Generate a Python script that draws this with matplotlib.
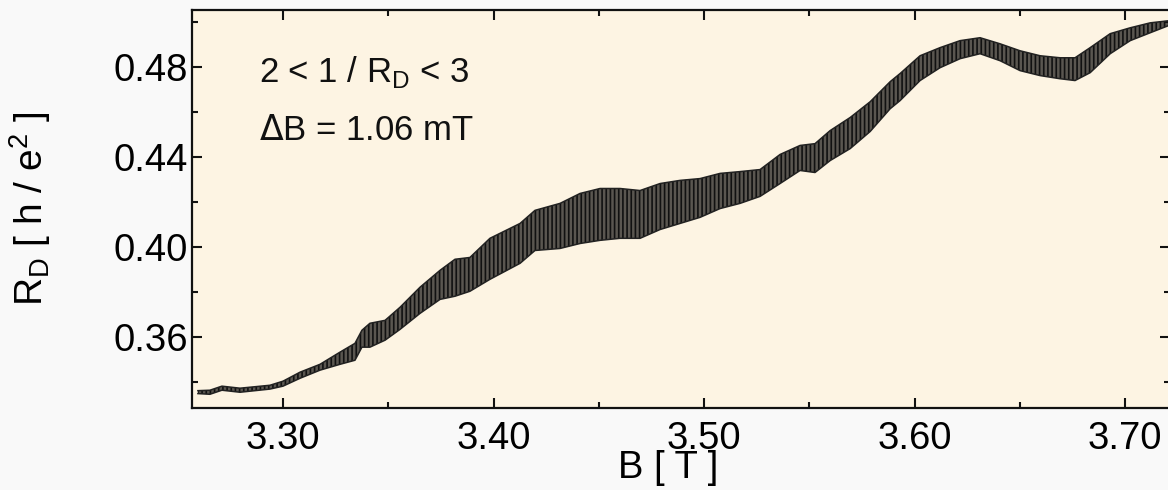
import numpy as np
import matplotlib
matplotlib.use('Agg')
import matplotlib.pyplot as plt
from matplotlib.ticker import MultipleLocator

plt.rcParams['font.family'] = ['Liberation Sans', 'DejaVu Sans']
plt.rcParams['hatch.linewidth'] = 1.2
plt.rcParams['hatch.color'] = '#111111'

# magnetic field [T] and the upper / lower edge of the oscillating trace
b_field = [3.2596, 3.2653, 3.2710, 3.2796, 3.2938, 3.3000, 3.3081, 3.3176, 3.3271, 3.3342,
           3.3375, 3.3413, 3.3485, 3.3556, 3.3651, 3.3746, 3.3817, 3.3888, 3.3983, 3.4126,
           3.4197, 3.4316, 3.4411, 3.4506, 3.4601, 3.4696, 3.4791, 3.4886, 3.4981, 3.5076,
           3.5171, 3.5266, 3.5361, 3.5456, 3.5527, 3.5599, 3.5694, 3.5789, 3.5884, 3.5931,
           3.6026, 3.6121, 3.6216, 3.6311, 3.6406, 3.6501, 3.6596, 3.6691, 3.6762, 3.6834,
           3.6929, 3.7024, 3.7119, 3.7204]
rd_upper = [0.3363, 0.3365, 0.3383, 0.3374, 0.3387, 0.3405, 0.3445, 0.3480, 0.3534, 0.3573,
            0.3631, 0.3662, 0.3675, 0.3733, 0.3822, 0.3897, 0.3946, 0.3954, 0.4039, 0.4105,
            0.4163, 0.4194, 0.4238, 0.4260, 0.4260, 0.4251, 0.4282, 0.4296, 0.4304, 0.4327,
            0.4335, 0.4344, 0.4411, 0.4451, 0.4459, 0.4517, 0.4575, 0.4645, 0.4734, 0.4770,
            0.4849, 0.4885, 0.4916, 0.4929, 0.4902, 0.4871, 0.4849, 0.4840, 0.4840, 0.4885,
            0.4947, 0.4973, 0.4995, 0.5004]
rd_lower = [0.3350, 0.3347, 0.3365, 0.3356, 0.3370, 0.3383, 0.3418, 0.3454, 0.3480, 0.3498,
            0.3556, 0.3556, 0.3587, 0.3635, 0.3706, 0.3768, 0.3782, 0.3804, 0.3857, 0.3928,
            0.3985, 0.3994, 0.4016, 0.4030, 0.4039, 0.4039, 0.4078, 0.4105, 0.4132, 0.4171,
            0.4194, 0.4225, 0.4282, 0.4340, 0.4331, 0.4384, 0.4437, 0.4513, 0.4614, 0.4650,
            0.4739, 0.4796, 0.4836, 0.4858, 0.4827, 0.4783, 0.4761, 0.4747, 0.4739, 0.4774,
            0.4858, 0.4916, 0.4951, 0.4982]

x_ticks = [3.30, 3.40, 3.50, 3.60, 3.70]
y_ticks = [0.36, 0.40, 0.44, 0.48]

fig = plt.figure(figsize=(11.68, 4.9), dpi=100, facecolor='#f9f9f9')
ax = fig.add_axes([0.1644, 0.1673, 0.8373, 0.8123], facecolor='#fdf4e3')

# band of the dense oscillations: grey body, dark streaks, dark edges
ax.fill_between(b_field, rd_lower, rd_upper, facecolor='#5a5650', edgecolor='none', lw=0)
ax.fill_between(b_field, rd_lower, rd_upper, facecolor='none', edgecolor='#111111',
                hatch='||||', lw=0)
ax.plot(b_field, rd_upper, color='#222222', lw=1.1)
ax.plot(b_field, rd_lower, color='#222222', lw=1.1)

ax.set_xlim(3.2568, 3.7213)
ax.set_ylim(0.3286, 0.5052)
ax.set_xticks(x_ticks)
ax.set_xticklabels(['%.2f' % v for v in x_ticks])
ax.set_yticks(y_ticks)
ax.set_yticklabels(['%.2f' % v for v in y_ticks])
ax.xaxis.set_minor_locator(MultipleLocator(0.05))
ax.yaxis.set_minor_locator(MultipleLocator(0.02))
ax.tick_params(which='both', direction='in', top=True, right=True, width=1.5, color='#111111')
ax.tick_params(which='major', length=7.5, labelsize=27.5)
ax.tick_params(which='minor', length=4.5)
ax.tick_params(axis='x', pad=9)
ax.tick_params(axis='y', pad=3)
for s in ax.spines.values():
    s.set_linewidth(1.6)
    s.set_color('#111111')

ax.set_xlabel('B [ T ]', fontsize=27.5)
ax.xaxis.set_label_coords(0.487, -0.106)
ax.set_ylabel(r'R$_\mathregular{D}$ [ h / e$^\mathregular{2}$ ]', fontsize=28)
ax.yaxis.set_label_coords(-0.142, 0.5)

ax.text(0.068, 0.819, r'2 < 1 / R$_\mathregular{D}$ < 3', transform=ax.transAxes,
        fontsize=25, va='baseline', ha='left', color='#111111')
ax.text(0.068, 0.673, r'$\Delta$B = 1.06 mT', transform=ax.transAxes,
        fontsize=25, va='baseline', ha='left', color='#111111')

fig.savefig('out.png', dpi=100, facecolor=fig.get_facecolor())
